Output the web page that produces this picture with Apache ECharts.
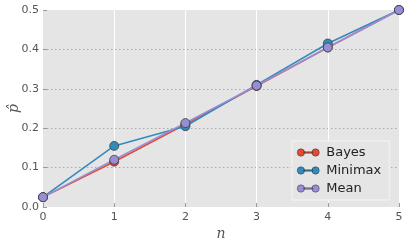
<!DOCTYPE html>
<html><head><meta charset="utf-8">
<script src="https://cdn.jsdelivr.net/npm/echarts@6/dist/echarts.min.js"></script>
<style>html,body{margin:0;padding:0;background:#fff}#c{width:407px;height:245px}</style>
</head><body><div id="c"></div>
<script>
var nValues = [0, 1, 2, 3, 4, 5];
var bayes = [0.025, 0.115, 0.210, 0.307, 0.405, 0.500];
var minimax = [0.025, 0.155, 0.205, 0.310, 0.415, 0.500];
var meanVals = [0.025, 0.120, 0.213, 0.308, 0.405, 0.500];
var seriesNames = ['Bayes', 'Minimax', 'Mean'];
var colors = ['#E24A33', '#348ABD', '#988ED5'];

var iconPath = 'path://M4,0A4,4,0,1,1,4,8A4,4,0,1,1,4,0ZM20,0A4,4,0,1,1,20,8A4,4,0,1,1,20,0ZM7,3.3L17,3.3L17,4.7L7,4.7Z';
function pair(arr){ return nValues.map(function(n,i){ return [n, arr[i]]; }); }
function mk(name, arr, color){
  return {
    name: name, type: 'line', data: pair(arr),
    symbol: 'circle', symbolSize: 9,
    lineStyle: {color: color, width: 1.6},
    itemStyle: {color: color, borderColor: '#333', borderWidth: 0.7},
    emphasis: {disabled: true}
  };
}
var chart = echarts.init(document.getElementById('c'), null, {renderer: 'canvas'});
chart.setOption({
  animation: false,
  color: colors,
  grid: {left: 43, right: 8, top: 10, bottom: 38, outerBoundsMode: 'none', containLabel: false,
    backgroundColor: '#E5E5E5', show: true, borderWidth: 0},
  legend: {
    data: seriesNames, orient: 'vertical', left: 292, top: 141,
    icon: iconPath, itemWidth: 22, itemHeight: 8, itemGap: 5,
    itemStyle: {borderColor: '#333', borderWidth: 0.5},
    backgroundColor: '#E5E5E5', borderColor: '#F4F4F4', borderWidth: 1,
    padding: [5, 8, 5, 5],
    textStyle: {fontFamily: 'DejaVu Sans', fontSize: 13, color: '#222', padding: [0, 0, 0, 2]}
  },
  xAxis: {
    type: 'value', min: 0, max: 5, interval: 1,
    name: 'n', nameLocation: 'middle', nameGap: 20, nameMoveOverlap: false,
    nameTextStyle: {fontFamily: 'DejaVu Serif', fontStyle: 'italic', fontSize: 14, color: '#555'},
    axisLine: {show: false},
    axisTick: {show: true, inside: true, length: 4, lineStyle: {color: '#999'}},
    axisLabel: {fontFamily: 'DejaVu Sans', fontSize: 11, color: '#555', margin: 5},
    splitLine: {show: true, showMinLine: false, showMaxLine: false, lineStyle: {color: '#fff', width: 1}}
  },
  yAxis: {
    type: 'value', min: 0, max: 0.5, interval: 0.1,
    name: 'p\u0302', nameLocation: 'middle', nameGap: 22, nameRotate: 90, nameMoveOverlap: false,
    nameTextStyle: {fontFamily: 'DejaVu Serif', fontStyle: 'italic', fontSize: 14, color: '#555'},
    axisLine: {show: false},
    axisTick: {show: true, inside: true, length: 4, lineStyle: {color: '#999'}},
    axisLabel: {fontFamily: 'DejaVu Sans', fontSize: 11, color: '#555', margin: 4,
      formatter: function(v){ return v.toFixed(1); }},
    splitLine: {show: true, showMinLine: false, showMaxLine: false, lineStyle: {color: '#aaa', width: 1, type: [1.5, 2.5]}}
  },
  series: [mk(seriesNames[0], bayes, colors[0]), mk(seriesNames[1], minimax, colors[1]), mk(seriesNames[2], meanVals, colors[2])]
});
</script></body></html>
